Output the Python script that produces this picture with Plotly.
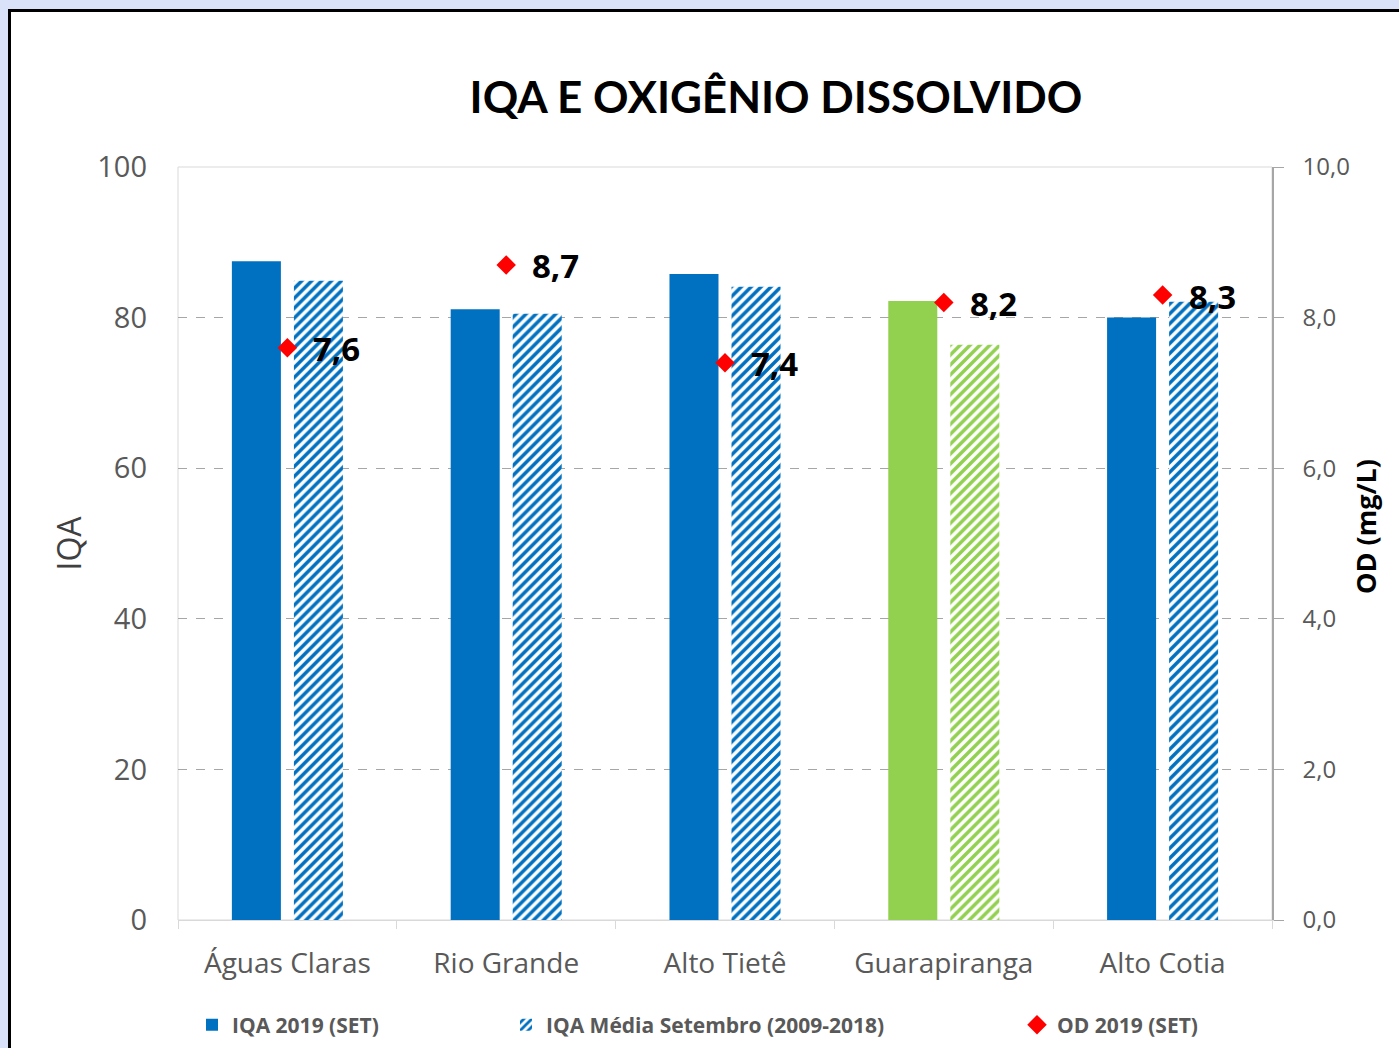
import plotly.graph_objects as go

categories = ["Águas Claras", "Rio Grande", "Alto Tietê", "Guarapiranga", "Alto Cotia"]
iqa_2019 = [87.5, 81.1, 85.8, 82.2, 80.0]
iqa_media = [84.9, 80.5, 84.1, 76.4, 82.1]
od_2019 = [7.6, 8.7, 7.4, 8.2, 8.3]
bar_colors = ["#0070C0", "#0070C0", "#0070C0", "#92D050", "#0070C0"]

W, H = 1399, 1048
L, R, T, B = 178, 127, 167, 128
pw, ph = W - L - R, H - T - B

def px_x(p):
    return (p - L) / pw

def px_y(p):
    return (H - B - p) / ph

fig = go.Figure()

fig.add_trace(go.Bar(
    x=categories, y=iqa_2019, name="IQA 2019 (SET)",
    marker=dict(color=bar_colors, line=dict(width=0)),
    legend="legend", hoverinfo="skip",
))
fig.add_trace(go.Bar(
    x=categories, y=iqa_media, name="IQA Média Setembro (2009-2018)",
    marker=dict(color="white", line=dict(width=0),
                pattern=dict(shape="/", fgcolor=bar_colors, bgcolor="white",
                             size=7, solidity=0.5, fgopacity=1, fillmode="overlay")),
    legend="legend2", hoverinfo="skip",
))
fig.add_trace(go.Scatter(
    x=categories, y=od_2019, name="OD 2019 (SET)", yaxis="y2",
    mode="markers",
    marker=dict(symbol="diamond", color="#FF0000", size=15, line=dict(width=0)),
    legend="legend3", hoverinfo="skip",
))

for c, v in zip(categories, od_2019):
    fig.add_annotation(
        x=c, y=v, xref="x", yref="y2", text=f"<b>{v:.1f}</b>".replace(".", ","),
        showarrow=False, xanchor="left", yanchor="middle", xshift=24, yshift=-1,
        font=dict(family="Open Sans", size=33, color="#000000"),
    )

# right axis title
fig.add_annotation(
    x=px_x(1365), y=px_y(527), xref="paper", yref="paper", text="<b>OD (mg/L)</b>",
    textangle=-90, showarrow=False, xanchor="center", yanchor="middle",
    font=dict(family="Open Sans", size=27, color="#000000"),
)

# white panel with black border
fig.add_shape(type="rect", xref="paper", yref="paper",
              x0=px_x(9.5), x1=px_x(W + 20), y0=px_y(H + 20), y1=px_y(10.5),
              line=dict(color="#000000", width=3), fillcolor="white", layer="below")
# plot area border (light gray)
fig.add_shape(type="rect", xref="paper", yref="paper", x0=0, x1=1, y0=0, y1=1,
              line=dict(color="#D9D9D9", width=1), fillcolor="rgba(0,0,0,0)", layer="below")

legend_common = dict(orientation="h", yanchor="middle", xanchor="left",
                     yref="container", xref="container",
                     y=1 - 1025 / H, bgcolor="rgba(0,0,0,0)",
                     font=dict(family="Open Sans", size=21, color="#595959", weight="bold"))

fig.update_layout(
    width=W, height=H,
    margin=dict(l=L, r=R, t=T, b=B, autoexpand=False),
    paper_bgcolor="#D9E2F9",
    plot_bgcolor="white",
    separators=",.",
    barmode="group", bargap=0.433, bargroupgap=0.21,
    title=dict(text="<b>IQA E OXIGÊNIO DISSOLVIDO</b>", x=776 / W, xref="container",
               xanchor="center", y=1 - 98 / H, yref="container", yanchor="middle",
               font=dict(family="Lato", size=44, color="#000000")),
    xaxis=dict(
        type="category", showline=True, linecolor="#D9D9D9", linewidth=1,
        ticks="outside", tickson="boundaries", ticklen=8, tickcolor="#D9D9D9",
        tickfont=dict(family="Open Sans", size=28, color="#595959"),
        ticklabelstandoff=18, showgrid=False, automargin=False,
    ),
    yaxis=dict(
        range=[0, 100], dtick=20, tick0=0,
        showgrid=True, gridcolor="#A6A6A6", griddash="dash", gridwidth=1,
        zeroline=False, showline=False, ticks="",
        tickfont=dict(family="Open Sans", size=29, color="#595959"),
        ticklabelstandoff=30, automargin=False,
        title=dict(text="IQA", font=dict(family="Open Sans", size=32, color="#404040"),
                   standoff=6),
    ),
    yaxis2=dict(
        overlaying="y", side="right", range=[0, 10], dtick=2, tick0=0,
        tickformat=".1f", showgrid=False, zeroline=False,
        showline=True, linecolor="#A6A6A6", linewidth=1.5,
        ticks="outside", ticklen=10, tickcolor="#A6A6A6",
        tickfont=dict(family="Open Sans", size=24, color="#595959"),
        ticklabelstandoff=14, automargin=False,
    ),
    legend=dict(**legend_common, x=192 / W),
    legend2=dict(**legend_common, x=506 / W),
    legend3=dict(**legend_common, x=1017 / W),
    showlegend=True,
)

fig.write_html("out.html", config={"displayModeBar": False},
               post_script="document.body.style.margin='0px';document.body.style.background='#D9E2F9';")
